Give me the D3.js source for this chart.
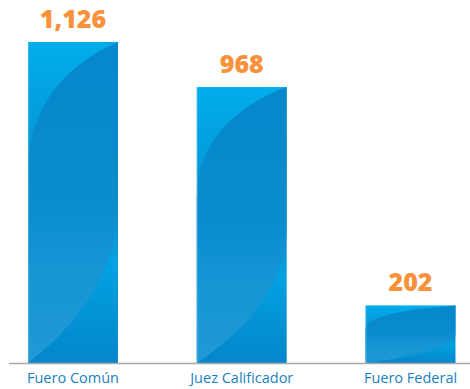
<!DOCTYPE html>
<html>
<head>
<meta charset="utf-8">
<script src="https://cdn.jsdelivr.net/npm/d3@7"></script>
<style>
  html, body { margin: 0; padding: 0; background: #ffffff; }
  svg { display: block; }
</style>
</head>
<body>
<div id="chart"></div>
<script>
// Casos por instancia
const categories = ["Fuero Común", "Juez Calificador", "Fuero Federal"];
const values = [1126, 968, 202];
const valueLabels = ["1,126", "968", "202"];

const width = 470, height = 389;
const baseY = 363;

const svg = d3.select("#chart").append("svg")
  .attr("width", width)
  .attr("height", height);

const x = d3.scaleBand()
  .domain(categories)
  .range([28, 455.5])
  .paddingInner(0.467)
  .paddingOuter(0);

const y = d3.scaleLinear()
  .domain([0, 1126])
  .range([baseY, 42]);

const defs = svg.append("defs");

// Base fill: light cyan at the top, deeper blue at the foot
const gBase = defs.append("linearGradient")
  .attr("id", "barBase").attr("x1", 0).attr("y1", 0).attr("x2", 0).attr("y2", 1);
[[0, "#00adec"], [0.4, "#0693d3"], [0.55, "#0590d1"], [0.68, "#00a2e2"], [1, "#0586cb"]]
  .forEach(([o, c]) => gBase.append("stop").attr("offset", o).attr("stop-color", c));

// Curved sheen band running from the top-right corner to the bottom-left corner
const gLens = defs.append("linearGradient")
  .attr("id", "barLens").attr("x1", 0).attr("y1", 0).attr("x2", 0).attr("y2", 1);
[[0, "#0587cb"], [0.5, "#0a8ccf"], [0.7, "#1595d4"], [1, "#2099d6"]]
  .forEach(([o, c]) => gLens.append("stop").attr("offset", o).attr("stop-color", c));

const data = categories.map((c, i) => ({ cat: c, value: values[i], label: valueLabels[i] }));

const bars = svg.append("g").selectAll("g.bar")
  .data(data)
  .join("g")
  .attr("class", "bar");

bars.append("rect")
  .attr("x", d => x(d.cat))
  .attr("y", d => y(d.value))
  .attr("width", x.bandwidth())
  .attr("height", d => baseY - y(d.value))
  .attr("fill", "url(#barBase)");

bars.append("path")
  .attr("fill", "url(#barLens)")
  .attr("d", d => {
    const x0 = x(d.cat), x1 = x0 + x.bandwidth();
    const y0 = y(d.value), y1 = baseY;
    const w = x1 - x0, h = y1 - y0;
    const p = d3.path();
    p.moveTo(x1, y0);
    // left edge of the band: bows toward the upper left
    p.bezierCurveTo(x0 + 0.35 * w, y0 + 0.08 * h, x0, y0 + 0.22 * h, x0, y0 + 0.40 * h);
    p.lineTo(x0, y1);
    // right edge of the band: bows toward the lower right
    p.bezierCurveTo(x0 + 0.55 * w, y1 - 0.12 * h, x1, y1 - 0.28 * h, x1, y0 + 0.50 * h);
    p.closePath();
    return p.toString();
  });

// thin highlight on the left side of each bar
bars.append("line")
  .attr("x1", d => x(d.cat) + 0.5)
  .attr("x2", d => x(d.cat) + 0.5)
  .attr("y1", d => y(d.value))
  .attr("y2", baseY)
  .attr("stroke", "#6cc6ee")
  .attr("stroke-opacity", 0.5)
  .attr("stroke-width", 1);

// value labels
bars.append("text")
  .attr("x", d => x(d.cat) + x.bandwidth() / 2)
  .attr("y", d => y(d.value) - 14)
  .attr("text-anchor", "middle")
  .attr("font-family", "'Open Sans', sans-serif")
  .attr("font-weight", 800)
  .attr("font-size", 25)
  .attr("fill", "#f7923a")
  .text(d => d.label);

// baseline
svg.append("line")
  .attr("x1", 9).attr("x2", 470)
  .attr("y1", baseY + 0.5).attr("y2", baseY + 0.5)
  .attr("stroke", "#a9a9a9")
  .attr("stroke-width", 1.5);

// category axis
const xAxis = svg.append("g")
  .attr("transform", `translate(0,${baseY})`)
  .call(d3.axisBottom(x).tickSize(0).tickPadding(10));
xAxis.select(".domain").remove();
xAxis.selectAll("text")
  .attr("font-family", "'Open Sans', sans-serif")
  .attr("font-size", 14.5)
  .attr("fill", "#1a7fc2");
</script>
</body>
</html>
